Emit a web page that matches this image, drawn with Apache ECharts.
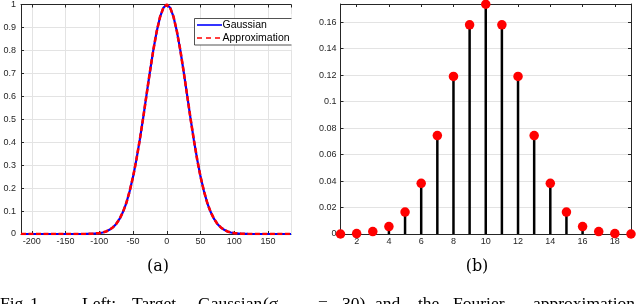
<!DOCTYPE html>
<html>
<head>
<meta charset="utf-8">
<script src="https://cdn.jsdelivr.net/npm/echarts@6/dist/echarts.min.js"></script>
<style>
html,body{margin:0;padding:0;background:#fff;}
#chart{width:640px;height:304px;}
</style>
</head>
<body>
<div id="chart"></div>
<script>
// ---- Left panel (a): Gaussian and its approximation
const leftX = [-216,-200,-180,-160,-140,-130,-120,-110,-100,-95,-90,-85,-80,-75,-70,-65,-60,-55,-50,-45,-40,-35,-30,-25,-20,-15,-10,-5,0,
               5,10,15,20,25,30,35,40,45,50,55,60,65,70,75,80,85,90,95,100,110,120,130,140,160,180,184];
const gaussianY = [0,0,0,0,0,0.0001,0.0003,0.0012,0.0039,0.0067,0.0111,0.0181,0.0286,0.0439,0.0657,0.0956,0.135,0.187,0.249,0.325,0.411,0.506,0.607,0.707,0.801,0.882,0.946,0.986,1,
                   0.986,0.946,0.882,0.801,0.707,0.607,0.506,0.411,0.325,0.249,0.187,0.135,0.0956,0.0657,0.0439,0.0286,0.0181,0.0111,0.0067,0.0039,0.0012,0.0003,0.0001,0,0,0,0];
const approxY   = [0,0,0,0,0,0.0001,0.0003,0.0012,0.0039,0.0067,0.0111,0.0181,0.0286,0.0439,0.0657,0.0956,0.135,0.187,0.249,0.325,0.411,0.506,0.607,0.707,0.801,0.882,0.946,0.986,1,
                   0.986,0.946,0.882,0.801,0.707,0.607,0.506,0.411,0.325,0.249,0.187,0.135,0.0956,0.0657,0.0439,0.0286,0.0181,0.0111,0.0067,0.0039,0.0012,0.0003,0.0001,0,0,0,0];
const legendNames = ['Gaussian', 'Approximation'];

// ---- Right panel (b): Fourier coefficients
const coefIndex = [1,2,3,4,5,6,7,8,9,10,11,12,13,14,15,16,17,18,19];
const coefValue = [0,0.0003,0.0018,0.0056,0.0166,0.0383,0.0743,0.1190,0.1580,0.1735,0.1580,0.1190,0.0743,0.0383,0.0166,0.0056,0.0018,0.0003,0];

const captions = ['(a)', '(b)'];
const figWords = [['Fig.',0],['1.',30],['Left:',82],['Target',132],['Gaussian',198],['(\u03c3',263],['=',318],['30)',342],['and',375],['the',418],['Fourier',453],['approximation',533]];

const dark = '#262626';
const gridC = '#e3e3e3';
const sans = 'Liberation Sans, Arial, Helvetica, sans-serif';
const serif = 'DejaVu Serif, serif';
const capSerif = 'Liberation Serif, Times New Roman, serif';

const leftData = leftX.map((x,i)=>[x, gaussianY[i]]);
const approxData = leftX.map((x,i)=>[x, approxY[i]]);
const stemData = coefIndex.map((n,i)=>[n, coefValue[i]]);

const lbl = {fontSize:9, color:dark, fontFamily:sans};

const option = {
  animation:false,
  backgroundColor:'#fff',
  grid:[
    {left:21, top:4, width:270, height:230},
    {left:340.5, top:4, width:290.5, height:230}
  ],
  xAxis:[
    {gridIndex:0, type:'value', min:-216, max:184, splitNumber:8, position:'bottom',
     axisLine:{show:true, onZero:false, lineStyle:{color:dark, width:1}},
     axisTick:{show:true, inside:true, length:3, lineStyle:{color:dark}},
     axisLabel:Object.assign({margin:3, showMinLabel:false, showMaxLabel:false}, lbl),
     splitLine:{show:true, lineStyle:{color:gridC, width:1}}},
    {gridIndex:0, type:'value', min:-216, max:184, splitNumber:8, position:'top',
     axisLine:{show:true, onZero:false, lineStyle:{color:dark, width:1}},
     axisTick:{show:true, inside:true, length:3, lineStyle:{color:dark}},
     axisLabel:{show:false}, splitLine:{show:false}},
    {gridIndex:1, type:'value', min:1, max:19, splitNumber:9, position:'bottom',
     axisLine:{show:true, onZero:false, lineStyle:{color:dark, width:1}},
     axisTick:{show:true, inside:true, length:3, lineStyle:{color:dark}},
     axisLabel:Object.assign({margin:3, showMinLabel:false, showMaxLabel:false}, lbl),
     splitLine:{show:false}},
    {gridIndex:1, type:'value', min:1, max:19, splitNumber:9, position:'top',
     axisLine:{show:true, onZero:false, lineStyle:{color:dark, width:1}},
     axisTick:{show:true, inside:true, length:3, lineStyle:{color:dark}},
     axisLabel:{show:false}, splitLine:{show:false}}
  ],
  yAxis:[
    {gridIndex:0, type:'value', min:0, max:1, interval:0.1, position:'left',
     axisLine:{show:true, onZero:false, lineStyle:{color:dark, width:1}},
     axisTick:{show:true, inside:true, length:3, lineStyle:{color:dark}},
     axisLabel:Object.assign({margin:5}, lbl),
     splitLine:{show:true, lineStyle:{color:gridC, width:1}}},
    {gridIndex:1, type:'value', min:0, max:0.1737, interval:0.02, position:'left',
     axisLine:{show:true, onZero:false, lineStyle:{color:dark, width:1}},
     axisTick:{show:true, inside:true, length:3, lineStyle:{color:dark}},
     axisLabel:Object.assign({margin:4, showMaxLabel:false}, lbl),
     splitLine:{show:true, lineStyle:{color:gridC, width:1}}},
    {gridIndex:1, type:'value', min:0, max:0.1737, interval:0.02, position:'right',
     axisLine:{show:true, onZero:false, lineStyle:{color:dark, width:1}},
     axisTick:{show:true, inside:true, length:3, lineStyle:{color:dark}},
     axisLabel:{show:false}, splitLine:{show:false}}
  ],
  series:[
    {name:legendNames[0], type:'line', xAxisIndex:0, yAxisIndex:0, data:leftData, showSymbol:false, symbol:'none',
     lineStyle:{color:'#0000ff', width:2.2}, z:3},
    {name:legendNames[1], type:'line', xAxisIndex:0, yAxisIndex:0, data:approxData, showSymbol:false, symbol:'none',
     lineStyle:{color:'#ff0000', width:2.6, type:[5,2.5]}, z:4},
    {type:'bar', xAxisIndex:2, yAxisIndex:1, data:stemData, barWidth:2.5, itemStyle:{color:'#000'}, z:3},
    {type:'scatter', xAxisIndex:2, yAxisIndex:1, data:stemData, symbol:'circle', symbolSize:9.5, clip:false,
     itemStyle:{color:'#ff0000', opacity:1}, z:5}
  ],
  graphic:[
    {type:'rect', z:100, shape:{x:194.5, y:18.5, width:110, height:26.5}, style:{fill:'#fff', stroke:dark, lineWidth:0.8}},
    {type:'line', z:101, shape:{x1:197, y1:25, x2:222, y2:25}, style:{stroke:'#0000ff', lineWidth:1.6}},
    {type:'line', z:101, shape:{x1:197, y1:38, x2:222, y2:38}, style:{stroke:'#ff0000', lineWidth:1.6, lineDash:[5,4]}},
    {type:'text', z:101, x:222.5, y:25.5, style:{text:legendNames[0], fontSize:10.5, fontFamily:sans, fill:'#000', verticalAlign:'middle'}},
    {type:'text', z:101, x:222.5, y:38.5, style:{text:legendNames[1], fontSize:10.5, fontFamily:sans, fill:'#000', verticalAlign:'middle'}},
    {type:'rect', z:102, shape:{x:291.5, y:14, width:26, height:36}, style:{fill:'#fff'}},
    {type:'text', z:101, x:158, y:267, style:{text:captions[0], fontSize:16, fontFamily:serif, fill:'#000', align:'center', verticalAlign:'middle'}},
    {type:'text', z:101, x:477, y:267, style:{text:captions[1], fontSize:16, fontFamily:serif, fill:'#000', align:'center', verticalAlign:'middle'}}
  ].concat(figWords.map(w=>({type:'text', z:101, x:w[1], y:304,
     style:{text:w[0], fontSize:17.5, fontFamily:capSerif, fill:'#000', verticalAlign:'middle'}})))
};

const chart = echarts.init(document.getElementById('chart'), null, {renderer:'canvas'});
chart.setOption(option);
</script>
</body>
</html>
